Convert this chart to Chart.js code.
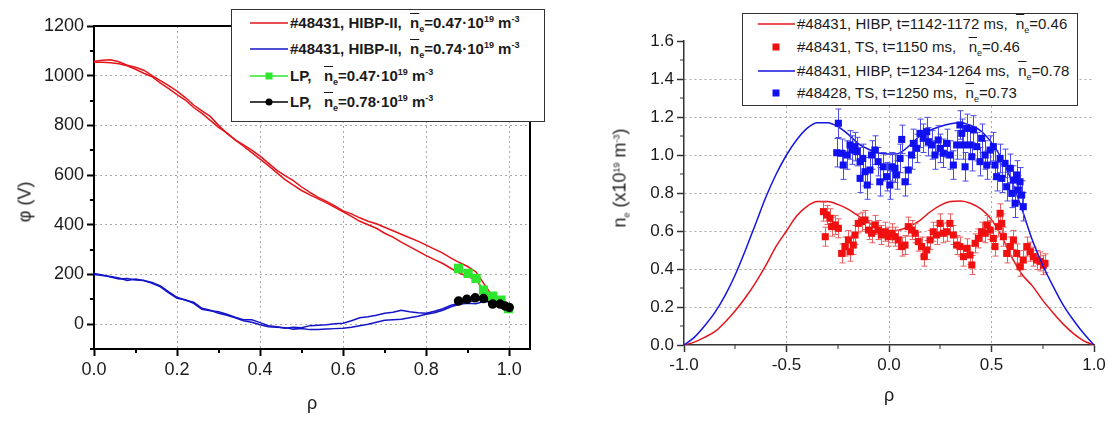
<!DOCTYPE html>
<html>
<head>
<title>HIBP potential and density profiles</title>
<script src="https://cdn.jsdelivr.net/npm/chart.js"></script>
<style>
    body { margin: 0; background: #fff; font-family: "Liberation Sans", Arial, sans-serif; color: #1a1a1a; }
    .wrap { position: relative; width: 1112px; height: 421px; overflow: hidden; }
    canvas { position: absolute; top: 0; }
    .legend { position: absolute; background: #fff; border: 1px solid #333; box-sizing: border-box; font-size: 15px; }
    .legend .row { position: absolute; height: 20px; line-height: 20px; display: flex; align-items: center; white-space: nowrap; }
    .legend svg { flex: none; margin-right: 2px; }
    .nb { text-decoration: overline; }
    sub { font-size: 9px; line-height: 0; vertical-align: -4px; }
    sup { font-size: 9px; line-height: 0; vertical-align: 6px; }
    .atitle { position: absolute; font-size: 18px; white-space: nowrap; transform: translate(-50%, -50%); }
    .atitle.rot { transform: translate(-50%, -50%) rotate(-90deg); }
</style>
</head>
<body>
<div class="wrap">
    <canvas id="phiChart" width="556" height="421" style="left:0"></canvas>
    <canvas id="neChart" width="556" height="421" style="left:556px"></canvas>

    <!-- axis titles -->
    <div class="atitle rot" style="left:25px;top:202px">&phi; (V)</div>
    <div class="atitle" style="left:312px;top:403px">&rho;</div>
    <div class="atitle rot" style="left:620px;top:178px">n<sub>e</sub> (x10<sup>19</sup> m<sup>-3</sup>)</div>
    <div class="atitle" style="left:889px;top:395px">&rho;</div>

    <!-- legend, left panel -->
    <div class="legend" style="left:231px;top:9px;width:314px;height:113px;font-weight:bold">
        <div class="row" style="left:18px;top:3px">
            <svg width="38" height="12"><line x1="0" y1="6" x2="38" y2="6" stroke="#e3141a" stroke-width="1.5"/></svg>
            <span>#48431, HIBP-II,&nbsp; <span class="nb">n</span><sub>e</sub>=0.47&middot;10<sup>19</sup> m<sup>-3</sup></span>
        </div>
        <div class="row" style="left:18px;top:29px">
            <svg width="38" height="12"><line x1="0" y1="6" x2="38" y2="6" stroke="#1515c8" stroke-width="1.5"/></svg>
            <span>#48431, HIBP-II,&nbsp; <span class="nb">n</span><sub>e</sub>=0.74&middot;10<sup>19</sup> m<sup>-3</sup></span>
        </div>
        <div class="row" style="left:18px;top:56px">
            <svg width="38" height="12"><line x1="0" y1="6" x2="38" y2="6" stroke="#2ee62e" stroke-width="1.5"/><rect x="15.5" y="2.5" width="7" height="7" fill="#2ee62e"/></svg>
            <span>LP,&nbsp;&nbsp; <span class="nb">n</span><sub>e</sub>=0.47&middot;10<sup>19</sup> m<sup>-3</sup></span>
        </div>
        <div class="row" style="left:18px;top:82px">
            <svg width="38" height="12"><line x1="0" y1="6" x2="38" y2="6" stroke="#000" stroke-width="1.5"/><circle cx="19" cy="6" r="3.5" fill="#000"/></svg>
            <span>LP,&nbsp;&nbsp; <span class="nb">n</span><sub>e</sub>=0.78&middot;10<sup>19</sup> m<sup>-3</sup></span>
        </div>
    </div>

    <!-- legend, right panel -->
    <div class="legend" style="left:742px;top:13px;width:336px;height:93px">
        <div class="row" style="left:15px;top:0px">
            <svg width="37" height="12"><line x1="0" y1="6" x2="37" y2="6" stroke="#e3141a" stroke-width="1.5"/></svg>
            <span>#48431, HIBP, t=1142-1172 ms,&nbsp; <span class="nb">n</span><sub>e</sub>=0.46</span>
        </div>
        <div class="row" style="left:15px;top:23px">
            <svg width="37" height="12"><rect x="14.5" y="2.5" width="7" height="7" fill="#f01010"/></svg>
            <span>#48431, TS, t=1150 ms,&nbsp;&nbsp; <span class="nb">n</span><sub>e</sub>=0.46</span>
        </div>
        <div class="row" style="left:15px;top:47px">
            <svg width="37" height="12"><line x1="0" y1="6" x2="37" y2="6" stroke="#1515e0" stroke-width="1.5"/></svg>
            <span>#48431, HIBP, t=1234-1264 ms,&nbsp; <span class="nb">n</span><sub>e</sub>=0.78</span>
        </div>
        <div class="row" style="left:15px;top:69px">
            <svg width="37" height="12"><rect x="14.5" y="2.5" width="7" height="7" fill="#1010f0"/></svg>
            <span>#48428, TS, t=1250 ms,&nbsp; <span class="nb">n</span><sub>e</sub>=0.73</span>
        </div>
    </div>
</div>

<script>
    // ---------- left panel: potential profiles ----------
    const rhoPhi = [0, 0.02, 0.04, 0.06, 0.08, 0.10, 0.12, 0.14, 0.16, 0.18, 0.20, 0.22, 0.24, 0.26, 0.28, 0.30,
        0.32, 0.34, 0.36, 0.38, 0.40, 0.42, 0.44, 0.46, 0.48, 0.50, 0.52, 0.54, 0.56, 0.58, 0.60, 0.62, 0.64, 0.66,
        0.68, 0.70, 0.72, 0.74, 0.76, 0.78, 0.80, 0.82, 0.84, 0.86, 0.88, 0.90, 0.92, 0.94, 0.96, 0.98, 1.00];
    // HIBP-II, ne = 0.47 (two scans)
    const phiRedA = [1058, 1062, 1064, 1056, 1042, 1034, 1022, 1000, 980, 960, 938, 912, 882, 858, 836, 800,
        768, 742, 722, 700, 676, 648, 620, 598, 578, 552, 530, 510, 494, 476, 456, 444, 428, 414,
        404, 390, 376, 362, 348, 334, 318, 302, 286, 266, 248, 232, 210, 160, 112, 90, 68];
    const phiRedB = [1054, 1054, 1052, 1048, 1040, 1026, 1010, 996, 970, 948, 924, 902, 872, 848, 820, 792,
        770, 742, 716, 690, 664, 638, 610, 582, 560, 538, 520, 504, 488, 470, 452, 434, 414, 400,
        386, 366, 350, 330, 312, 294, 276, 260, 244, 224, 206, 192, 178, 132, 100, 84, 66];
    // HIBP-II, ne = 0.74 (two scans)
    const phiBlueA = [204, 198, 190, 182, 184, 178, 176, 164, 150, 126, 104, 98, 84, 60, 54, 50,
        40, 28, 18, 18, 6, -6, -10, -16, -12, -14, -6, -4, -2, 2, 4, 14, 26, 30,
        36, 44, 48, 56, 50, 46, 44, 52, 62, 76, 84, 90, 96, 110, 96, 84, 76];
    const phiBlueB = [200, 196, 192, 186, 176, 182, 176, 168, 154, 130, 108, 96, 88, 64, 56, 44,
        36, 26, 14, 8, -2, -10, -12, -14, -20, -18, -22, -22, -20, -18, -16, -12, -6, 0,
        8, 16, 18, 20, 26, 32, 40, 46, 56, 70, 80, 84, 82, 92, 86, 80, 72];
    // Langmuir probe
    const rhoLP1 = [0.878, 0.901, 0.920, 0.938, 0.960, 0.980, 0.998];
    const phiLP1 = [224, 204, 184, 137, 113, 97, 63];
    const rhoLP2 = [0.878, 0.898, 0.918, 0.938, 0.960, 0.978, 0.990, 1.000];
    const phiLP2 = [93, 100, 106, 103, 81, 81, 73, 67];

    const phiXTicks = [0, 0.1, 0.2, 0.3, 0.4, 0.5, 0.6, 0.7, 0.8, 0.9, 1.0];
    const phiYTicks = [-100, 0, 100, 200, 300, 400, 500, 600, 700, 800, 900, 1000, 1100, 1200];

    // ---------- right panel: density profiles ----------
    const rhoProf = [-1.00, -0.95, -0.90, -0.85, -0.80, -0.75, -0.70, -0.65, -0.60, -0.55, -0.50, -0.45, -0.40,
        -0.35, -0.30, -0.25, -0.20, -0.15, -0.10, -0.05, 0.00, 0.05, 0.10, 0.15, 0.20, 0.25, 0.30,
        0.35, 0.40, 0.45, 0.50, 0.55, 0.60, 0.65, 0.70, 0.75, 0.80, 0.85, 0.90, 0.95, 1.00];
    const neHibpRed = [0, 0.015, 0.04, 0.07, 0.12, 0.18, 0.25, 0.33, 0.42, 0.52, 0.60, 0.68, 0.73,
        0.755, 0.755, 0.74, 0.715, 0.68, 0.645, 0.615, 0.60, 0.605, 0.625, 0.655, 0.70, 0.735, 0.755,
        0.758, 0.745, 0.715, 0.66, 0.57, 0.46, 0.37, 0.31, 0.235, 0.17, 0.11, 0.06, 0.022, 0];
    const neHibpBlue = [0, 0.04, 0.10, 0.17, 0.26, 0.37, 0.50, 0.64, 0.78, 0.90, 1.00, 1.08, 1.14,
        1.17, 1.17, 1.15, 1.11, 1.06, 1.03, 1.01, 1.005, 1.01, 1.05, 1.10, 1.13, 1.15, 1.165,
        1.17, 1.155, 1.125, 1.065, 0.98, 0.86, 0.71, 0.55, 0.42, 0.31, 0.21, 0.13, 0.06, 0];

    // Thomson scattering, #48431 t=1150 ms
    const rhoTsRed = [-0.320, -0.311, -0.304, -0.288, -0.280, -0.263, -0.247, -0.231, -0.215, -0.198, -0.190,
        -0.174, -0.166, -0.150, -0.133, -0.117, -0.100, -0.085, -0.069, -0.053, -0.037, -0.020, -0.004,
        0.013, 0.029, 0.045, 0.062, 0.078, 0.094, 0.110, 0.127, 0.143, 0.159, 0.171, 0.184, 0.200,
        0.216, 0.232, 0.249, 0.265, 0.281, 0.297, 0.314, 0.330, 0.346, 0.363, 0.379, 0.395, 0.404,
        0.420, 0.436, 0.452, 0.469, 0.477, 0.493, 0.509, 0.517, 0.534, 0.542, 0.550, 0.558, 0.574,
        0.591, 0.607, 0.623, 0.639, 0.655, 0.672, 0.688, 0.704, 0.720, 0.737, 0.753, 0.761];
    const neTsRed = [0.702, 0.570, 0.684, 0.667, 0.623, 0.632, 0.614, 0.482, 0.518, 0.553, 0.491,
        0.526, 0.579, 0.640, 0.649, 0.658, 0.605, 0.588, 0.632, 0.605, 0.579, 0.596, 0.570,
        0.588, 0.570, 0.553, 0.518, 0.526, 0.623, 0.605, 0.588, 0.544, 0.518, 0.465, 0.500, 0.553,
        0.596, 0.579, 0.640, 0.588, 0.596, 0.640, 0.579, 0.526, 0.518, 0.465, 0.509, 0.474, 0.421,
        0.535, 0.561, 0.596, 0.588, 0.632, 0.605, 0.561, 0.518, 0.623, 0.693, 0.640, 0.570, 0.482,
        0.518, 0.553, 0.482, 0.412, 0.447, 0.518, 0.491, 0.465, 0.447, 0.440, 0.420, 0.430];
    // Thomson scattering, #48428 t=1250 ms
    const rhoTsBlue = [-0.247, -0.255, -0.231, -0.223, -0.206, -0.190, -0.181, -0.166, -0.157, -0.141, -0.141,
        -0.128, -0.117, -0.106, -0.093, -0.085, -0.069, -0.053, -0.045, -0.028, -0.012, 0.004, 0.013,
        0.029, 0.037, 0.054, 0.062, 0.078, 0.094, 0.110, 0.119, 0.135, 0.151, 0.167, 0.184, 0.192,
        0.208, 0.224, 0.240, 0.249, 0.265, 0.281, 0.297, 0.314, 0.330, 0.346, 0.355, 0.363, 0.371,
        0.379, 0.395, 0.404, 0.412, 0.428, 0.444, 0.452, 0.469, 0.477, 0.493, 0.509, 0.517, 0.525,
        0.542, 0.550, 0.566, 0.574, 0.591, 0.599, 0.607, 0.615, 0.623, 0.631, 0.639, 0.647, 0.655];
    const neTsBlue = [1.167, 1.012, 1.009, 0.947, 1.000, 1.053, 1.026, 1.044, 1.018, 0.965, 0.877,
        0.982, 0.912, 0.842, 0.921, 1.000, 1.026, 0.965, 0.859, 0.938, 0.886, 0.842, 0.938,
        0.930, 0.895, 0.982, 1.082, 0.859, 0.921, 1.000, 1.061, 1.035, 1.114, 1.088, 1.123, 1.070,
        1.053, 1.000, 1.079, 1.035, 1.009, 1.061, 1.000, 0.947, 1.053, 1.158, 1.114, 1.053, 0.938,
        1.140, 1.053, 0.991, 1.132, 1.044, 0.965, 1.088, 1.000, 0.947, 1.026, 1.044, 0.947, 0.886,
        0.982, 0.877, 0.956, 0.833, 0.930, 0.798, 0.868, 0.746, 0.895, 0.816, 0.859, 0.789, 0.728];
    const errTsRed = 0.05;
    const errTsBlue = 0.075;

    const neXTicks = [-1, -0.75, -0.5, -0.25, 0, 0.25, 0.5, 0.75, 1];
    const neYTicks = [0, 0.1, 0.2, 0.3, 0.4, 0.5, 0.6, 0.7, 0.8, 0.9, 1.0, 1.1, 1.2, 1.3, 1.4, 1.5, 1.6];

    const RED = '#e3141a', BLUE = '#1515c8', GREEN = '#2ee62e';
    const FONT = '"Liberation Sans", Arial, sans-serif';

    const pairs = (xs, ys) => xs.map((x, i) => ({ x: x, y: ys[i] }));

    // vertical error bars with small caps, drawn under the markers
    const errorBars = {
        id: 'errorBars',
        beforeDatasetDraw(chart, args) {
            const ds = chart.data.datasets[args.index];
            if (ds.errY === undefined) return;
            const ctx = chart.ctx, xs = chart.scales.x, ys = chart.scales.y;
            ctx.save();
            ctx.strokeStyle = ds.errColor;
            ctx.lineWidth = 1;
            ctx.beginPath();
            ds.data.forEach(p => {
                const px = Math.round(xs.getPixelForValue(p.x)) + 0.5;
                const lo = ys.getPixelForValue(p.y - ds.errY);
                const hi = ys.getPixelForValue(p.y + ds.errY);
                ctx.moveTo(px, lo); ctx.lineTo(px, hi);
                ctx.moveTo(px - 3, lo); ctx.lineTo(px + 3, lo);
                ctx.moveTo(px - 3, hi); ctx.lineTo(px + 3, hi);
            });
            ctx.stroke();
            ctx.restore();
        }
    };

    // short minor ticks and the optional top/right frame
    const axisExtras = {
        id: 'axisExtras',
        afterDraw(chart, args, opts) {
            const ctx = chart.ctx, a = chart.chartArea, xs = chart.scales.x, ys = chart.scales.y;
            ctx.save();
            ctx.strokeStyle = opts.color;
            ctx.lineWidth = opts.width;
            ctx.beginPath();
            opts.minorX.forEach(v => {
                const px = Math.round(xs.getPixelForValue(v));
                ctx.moveTo(px, a.bottom); ctx.lineTo(px, a.bottom + 4);
            });
            opts.minorY.forEach(v => {
                const py = Math.round(ys.getPixelForValue(v));
                ctx.moveTo(a.left, py); ctx.lineTo(a.left - 4, py);
            });
            ctx.stroke();
            if (opts.frame) {
                ctx.lineWidth = 2;
                ctx.strokeStyle = '#000';
                ctx.beginPath();
                ctx.moveTo(a.left, a.top); ctx.lineTo(a.right, a.top); ctx.lineTo(a.right, a.bottom);
                ctx.stroke();
            }
            ctx.restore();
        }
    };

    function axis(ticks, isMajor, fmt, size, gridAt, lineW, axisColor, extra) {
        return Object.assign({
            type: 'linear',
            afterBuildTicks: s => { s.ticks = ticks.map(v => ({ value: v })); },
            ticks: {
                autoSkip: false, maxRotation: 0, color: '#1a1a1a', padding: 3,
                font: { family: FONT, size: size },
                callback: v => isMajor(v) ? fmt(v) : ''
            },
            grid: {
                color: c => gridAt(c.tick.value) ? '#a8a8a8' : 'rgba(0,0,0,0)',
                lineWidth: 1,
                tickLength: 7,
                tickWidth: lineW,
                tickColor: c => isMajor(c.tick.value) ? axisColor : 'rgba(0,0,0,0)'
            },
            border: { color: axisColor, width: lineW, dash: [2, 3] }
        }, extra);
    }

    // left chart
    const phiMajorX = v => Math.round(v * 10) % 2 === 0;
    const phiMajorY = v => v >= 0 && v % 200 === 0;
    new Chart(document.getElementById('phiChart'), {
        type: 'scatter',
        data: {
            datasets: [
                { data: pairs(rhoPhi, phiRedA), showLine: true, borderColor: RED, borderWidth: 1.5, pointRadius: 0, order: 5 },
                { data: pairs(rhoPhi, phiRedB), showLine: true, borderColor: RED, borderWidth: 1.5, pointRadius: 0, order: 4 },
                { data: pairs(rhoPhi, phiBlueA), showLine: true, borderColor: BLUE, borderWidth: 1.5, pointRadius: 0, order: 3 },
                { data: pairs(rhoPhi, phiBlueB), showLine: true, borderColor: BLUE, borderWidth: 1.5, pointRadius: 0, order: 2 },
                { data: pairs(rhoLP1, phiLP1), showLine: true, borderColor: GREEN, backgroundColor: GREEN, borderWidth: 1.5,
                  pointStyle: 'rect', pointRadius: 5.5, order: 1 },
                { data: pairs(rhoLP2, phiLP2), showLine: true, borderColor: '#000', backgroundColor: '#000', borderWidth: 1.5,
                  pointStyle: 'circle', pointRadius: 4, order: 0 }
            ]
        },
        options: {
            responsive: false,
            animation: false,
            layout: { padding: { top: 26, right: 26, left: 0, bottom: 0 } },
            plugins: {
                legend: { display: false },
                tooltip: { enabled: false },
                axisExtras: {
                    color: '#000', width: 2, frame: true,
                    minorX: phiXTicks.filter(v => !phiMajorX(v)),
                    minorY: phiYTicks.filter(v => !phiMajorY(v))
                }
            },
            scales: {
                x: axis(phiXTicks, phiMajorX, v => v.toFixed(1), 18, v => v > 0 && phiMajorX(v), 2, '#000',
                    { min: 0, max: 1.05, afterFit: s => { s.height = 72; } }),
                y: axis(phiYTicks, phiMajorY, v => String(v), 18, v => phiMajorY(v) && v < 1200, 2, '#000',
                    { min: -100, max: 1200, afterFit: s => { s.width = 94; } })
            }
        },
        plugins: [axisExtras]
    });

    // right chart
    const neMajorX = v => Math.round(v * 4) % 2 === 0;
    const neMajorY = v => Math.round(v * 10) % 2 === 0;
    new Chart(document.getElementById('neChart'), {
        type: 'scatter',
        data: {
            datasets: [
                { data: pairs(rhoProf, neHibpRed), showLine: true, borderColor: RED, borderWidth: 1.5, pointRadius: 0,
                  cubicInterpolationMode: 'monotone', order: 3 },
                { data: pairs(rhoTsRed, neTsRed), backgroundColor: '#f01010', borderColor: '#f01010', borderWidth: 0,
                  pointStyle: 'rect', pointRadius: 5, errY: errTsRed, errColor: '#e86060', order: 2 },
                { data: pairs(rhoProf, neHibpBlue), showLine: true, borderColor: '#1515e0', borderWidth: 1.5, pointRadius: 0,
                  cubicInterpolationMode: 'monotone', order: 1 },
                { data: pairs(rhoTsBlue, neTsBlue), backgroundColor: '#1010f0', borderColor: '#1010f0', borderWidth: 0,
                  pointStyle: 'rect', pointRadius: 5, errY: errTsBlue, errColor: '#4a4ae8', order: 0 }
            ]
        },
        options: {
            responsive: false,
            animation: false,
            layout: { padding: { top: 41, right: 18, left: 0, bottom: 0 } },
            plugins: {
                legend: { display: false },
                tooltip: { enabled: false },
                axisExtras: {
                    color: '#333', width: 1, frame: false,
                    minorX: neXTicks.filter(v => !neMajorX(v)),
                    minorY: neYTicks.filter(v => !neMajorY(v))
                }
            },
            scales: {
                x: axis(neXTicks, neMajorX, v => v.toFixed(1), 17, v => v > -1 && v < 1 && neMajorX(v), 1.5, '#333',
                    { min: -1, max: 1, afterFit: s => { s.height = 76; } }),
                y: axis(neYTicks, neMajorY, v => v.toFixed(1), 17, v => v > 0 && v < 1.5 && neMajorY(v), 1.5, '#333',
                    { min: 0, max: 1.6, afterFit: s => { s.width = 128; } })
            }
        },
        plugins: [errorBars, axisExtras]
    });
</script>
</body>
</html>
